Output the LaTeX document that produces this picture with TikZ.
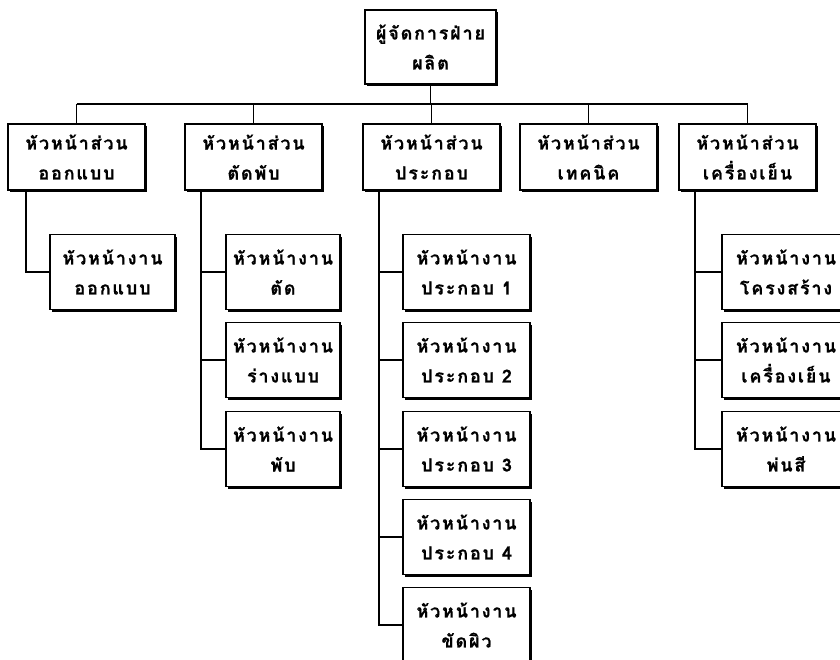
\documentclass[tikz,border=0pt]{standalone}
\usepackage{fontspec}
\newfontfamily\thaifont[Script=Thai,LetterSpace=10,BoldFeatures={FakeBold=0.6}]{Loma}
\usetikzlibrary{shadows}
\tikzset{
  box/.style={draw, line width=1.8pt, fill=white, align=center, inner sep=0pt,
    font=\thaifont\bfseries\fontsize{18}{30}\selectfont,
    drop shadow={shadow xshift=2.2pt, shadow yshift=-2.2pt, fill=black, opacity=1}},
  head/.style={box, minimum width=131pt, minimum height=74pt},
  section/.style={box, minimum width=137pt, minimum height=66pt},
  job/.style={box, minimum height=75pt},
  link/.style={line width=1.7pt},
}
\begin{document}
\begin{tikzpicture}[x=1pt, y=-1pt]
\useasboundingbox (0,0) rectangle (840,660);
\fill[white] (0,0) rectangle (840,660);

% top manager
\node[head] (mgr) at (430.5,47) {ผู้จัดการฝ่าย\\ผลิต};

% section heads
\node[section] (s1) at (76.5,157)  {หัวหน้าส่วน\\ออกแบบ};
\node[section] (s2) at (253.5,157) {หัวหน้าส่วน\\ตัดพับ};
\node[section] (s3) at (431.5,157) {หัวหน้าส่วน\\ประกอบ};
\node[section] (s4) at (588.5,157) {หัวหน้าส่วน\\เทคนิค};
\node[section] (s5) at (747.5,157) {หัวหน้าส่วน\\เครื่องเย็น};

% job heads, design
\node[job, minimum width=125pt] (j11) at (112.5,272) {หัวหน้างาน\\ออกแบบ};
% job heads, cutting and folding
\node[job, minimum width=114pt] (j21) at (283,272) {หัวหน้างาน\\ตัด};
\node[job, minimum width=114pt] (j22) at (283,360) {หัวหน้างาน\\ร่างแบบ};
\node[job, minimum width=114pt] (j23) at (283,449) {หัวหน้างาน\\พับ};
% job heads, assembly
\node[job, minimum width=127pt] (j31) at (466.5,272) {หัวหน้างาน\\ประกอบ 1};
\node[job, minimum width=127pt] (j32) at (466.5,360) {หัวหน้างาน\\ประกอบ 2};
\node[job, minimum width=127pt] (j33) at (466.5,449) {หัวหน้างาน\\ประกอบ 3};
\node[job, minimum width=127pt] (j34) at (466.5,537) {หัวหน้างาน\\ประกอบ 4};
\node[job, minimum width=127pt] (j35) at (466.5,625) {หัวหน้างาน\\ขัดผิว};
% job heads, refrigeration
\node[job, minimum width=128pt] (j51) at (786,272) {หัวหน้างาน\\โครงสร้าง};
\node[job, minimum width=128pt] (j52) at (786,360) {หัวหน้างาน\\เครื่องเย็น};
\node[job, minimum width=128pt] (j53) at (786,449) {หัวหน้างาน\\พ่นสี};

% manager to sections
\coordinate (bus) at (0,104);
\draw[link] (mgr.south) -- (mgr.south |- bus);
\draw[link] (s1.north |- bus) -- (s5.north |- bus);
\foreach \s in {s1,s2,s3,s4,s5}
  \draw[link] (\s.north) -- (\s.north |- bus);

% sections to job heads
\draw[link] ([xshift=19pt]s1.south west) |- (j11.west);
\foreach \j in {j21,j22,j23}
  \draw[link] ([xshift=17pt]s2.south west) |- (\j.west);
\foreach \j in {j31,j32,j33,j34,j35}
  \draw[link] ([xshift=17pt]s3.south west) |- (\j.west);
\foreach \j in {j51,j52,j53}
  \draw[link] ([xshift=17pt]s5.south west) |- (\j.west);
\end{tikzpicture}
\end{document}
